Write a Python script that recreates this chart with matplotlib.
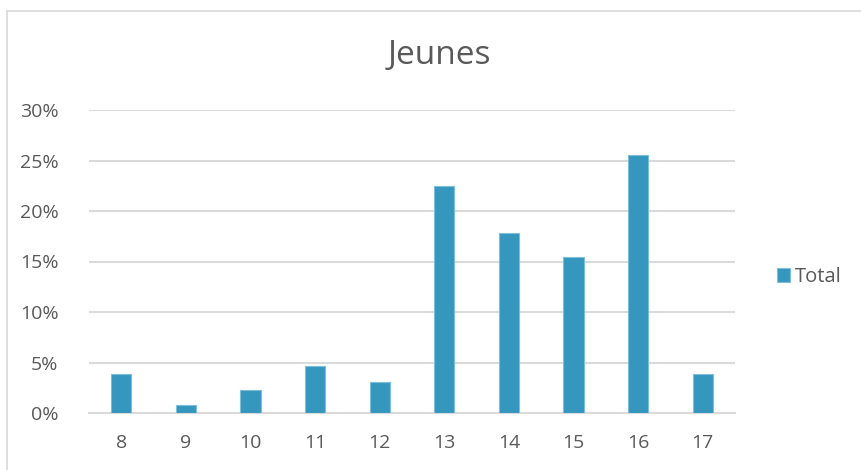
import matplotlib.pyplot as plt
from matplotlib.lines import Line2D
from matplotlib.ticker import FuncFormatter

ages = ['8', '9', '10', '11', '12', '13', '14', '15', '16', '17']
total = [3.9, 0.8, 2.3, 4.65, 3.1, 22.5, 17.8, 15.4, 25.5, 3.9]
yticks = [0, 5, 10, 15, 20, 25, 30]

grey_txt = '#595959'
grid_col = '#D9D9D9'
bar_col = '#3596BE'

plt.rcParams['font.family'] = ['Open Sans', 'DejaVu Sans']

W, H = 861, 470
fig = plt.figure(figsize=(W / 100, H / 100), dpi=100)
ax = fig.add_axes([89 / W, (H - 413) / H, (735 - 89) / W, (413 - 110) / H])

x = range(len(ages))
ax.bar(x, total, width=0.31, color=bar_col, edgecolor='#7DBFDA', linewidth=0.8,
       label='Total', zorder=3)

ax.set_xlim(-0.5, len(ages) - 0.5)
ax.set_ylim(0, 30)
ax.set_yticks(yticks)
ax.yaxis.set_major_formatter(FuncFormatter(lambda v, p: '%d%%' % v))
ax.set_xticks(list(x))
ax.set_xticklabels(ages)

ax.grid(axis='y', color=grid_col, linewidth=1.4, zorder=0)
for s in ['top', 'right', 'left']:
    ax.spines[s].set_visible(False)
ax.spines['bottom'].set_color(grid_col)
ax.spines['bottom'].set_linewidth(1.4)
ax.tick_params(length=0, labelsize=14, colors=grey_txt)
ax.tick_params(axis='x', pad=15)
ax.tick_params(axis='y', pad=22)

fig.text(439 / W, 1 - 55 / H, 'Jeunes', ha='center', va='center',
         fontsize=24, color=grey_txt)

leg = fig.legend(loc='center left', bbox_to_anchor=(767 / W, 1 - 277 / H),
                 frameon=False, fontsize=14.5, handlelength=0.65, handleheight=0.65,
                 handletextpad=0.25, borderpad=0)
for t in leg.get_texts():
    t.set_color(grey_txt)

# chart frame (only top and left edges visible in the crop)
fig.add_artist(Line2D([7 / W, 7 / W], [0, 1 - 11 / H], color=grid_col, linewidth=1.2))
fig.add_artist(Line2D([7 / W, 1], [1 - 11 / H, 1 - 11 / H], color=grid_col, linewidth=1.2))

fig.savefig('out.png', dpi=100)
